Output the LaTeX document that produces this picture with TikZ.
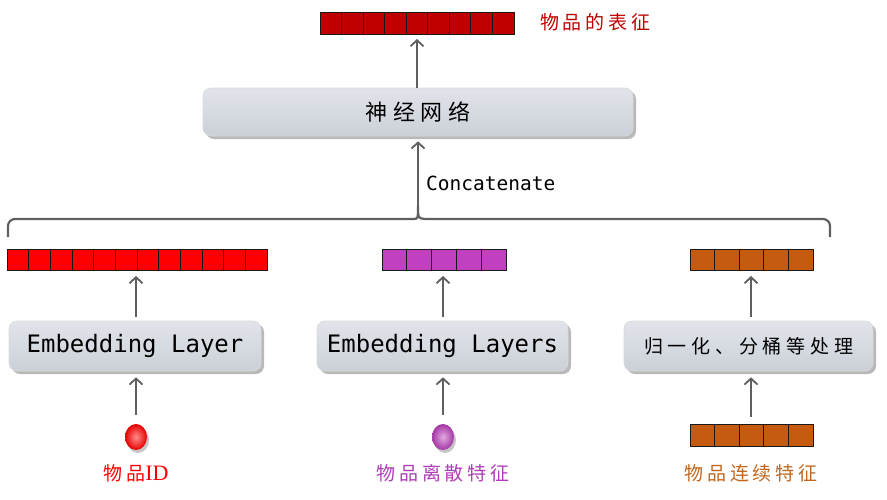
\documentclass[tikz,border=0pt]{standalone}
\usepackage{fontspec}
\newfontfamily\cjk{Noto Sans CJK SC}
\newfontfamily\cjksp[LetterSpace=20]{Noto Sans CJK SC}
\newfontfamily\cjkwide[LetterSpace=25]{Noto Sans CJK SC}
\newfontfamily\monof{DejaVu Sans Mono}
\newfontfamily\serifid{Liberation Serif}
\usetikzlibrary{arrows.meta,shadows,shapes.geometric}
\definecolor{cTop}{HTML}{C00000}
\definecolor{cRed}{HTML}{FF0000}
\definecolor{cPurple}{HTML}{C040C0}
\definecolor{cOrange}{HTML}{C55A11}
\definecolor{cOrangeTxt}{HTML}{C0661E}
\definecolor{cPurpleTxt}{HTML}{B03CB8}
\definecolor{cArrow}{HTML}{5F5F5F}
\definecolor{cBoxTop}{HTML}{E1E4EA}
\definecolor{cBoxBot}{HTML}{CBD0D8}
\begin{document}
\begin{tikzpicture}[x=1pt,y=-1pt,
  procbox/.style={rounded corners=8pt, draw=white!85!black, line width=0.6pt,
    top color=cBoxTop, bottom color=cBoxBot, inner sep=0pt,
    drop shadow={shadow xshift=3pt, shadow yshift=-3pt, fill=black!50, opacity=0.55}},
  vecbar/.style={draw=black!90, line width=1pt, inner sep=0pt, outer sep=0pt, minimum height=22pt},
  cellline/.style={draw=black!90, line width=0.9pt},
  uparrow/.style={draw=cArrow, line width=2.3pt, -{Straight Barb[length=6pt,width=13pt,line width=1.8pt]}},
  ball/.style={ellipse, minimum width=22pt, minimum height=26pt, inner sep=0pt,
    drop shadow={shadow xshift=2pt, shadow yshift=-3pt, fill=black!50, opacity=0.45}},
  bracestyle/.style={draw=cArrow, line width=2.2pt},
  monotxt/.style={font=\monof\fontsize{24}{28}\selectfont},
  cjklabel/.style={font=\cjksp\fontsize{19}{22}\selectfont, inner sep=0pt}
]
\useasboundingbox (0,0) rectangle (887,499);

% top representation
\node[vecbar, fill=cTop, minimum width=194pt] (topvec) at (417,23) {};
\foreach \i in {1,...,8} \draw[cellline] ([xshift=\i*21.556pt]topvec.south west) -- ([xshift=\i*21.556pt]topvec.north west);
\node[cjklabel, text=cTop, anchor=west] (toplab) at (540,22) {物品的表征};

% neural network
\node[procbox, minimum width=430pt, minimum height=48pt, font=\cjkwide\fontsize{22}{26}\selectfont] (nn) at (418,112) {\raisebox{-2pt}{神经网络}};
\draw[uparrow, shorten >=5pt] (nn.north -| topvec.south) -- (topvec.south);

% brace
\coordinate (tip) at (418,206);
\draw[bracestyle] (8,237) [rounded corners=7pt] |- (406,219) [sharp corners] .. controls (418,219) .. (tip) .. controls (418,219) .. (430,219) [rounded corners=7pt] -| (830,237);
\draw[uparrow, shorten >=5pt] (tip) -- (tip |- nn.south);
\node[font=\monof\fontsize{19.5}{22}\selectfont, anchor=west, inner sep=0pt] (concat) at (426,183) {Concatenate};

% vectors row
\node[vecbar, fill=cRed, minimum width=260pt, minimum height=21pt] (v1) at (137,259.5) {};
\foreach \i in {1,...,11} \draw[cellline] ([xshift=\i*21.667pt]v1.south west) -- ([xshift=\i*21.667pt]v1.north west);
\node[vecbar, fill=cPurple, minimum width=124pt, minimum height=21pt] (v2) at (444,259.5) {};
\foreach \i in {1,...,4} \draw[cellline] ([xshift=\i*24.8pt]v2.south west) -- ([xshift=\i*24.8pt]v2.north west);
\node[vecbar, fill=cOrange, minimum width=123pt, minimum height=21pt] (v3) at (751.5,259.5) {};
\foreach \i in {1,...,4} \draw[cellline] ([xshift=\i*24.6pt]v3.south west) -- ([xshift=\i*24.6pt]v3.north west);

% processing boxes
\node[procbox, minimum width=252pt, minimum height=50pt, monotxt] (b1) at (135,346) {\raisebox{-3pt}{Embedding Layer}};
\node[procbox, minimum width=251pt, minimum height=50pt, monotxt] (b2) at (442.5,346) {\raisebox{-3pt}{Embedding Layers}};
\node[procbox, minimum width=249pt, minimum height=50pt, font=\cjkwide\fontsize{19}{22}\selectfont] (b3) at (748.5,346) {\raisebox{-1pt}{归一化、分桶等处理}};

\draw[uparrow, shorten <=4pt, shorten >=6pt] (b1.north -| 136,0) -- (v1.south -| 136,0);
\draw[uparrow, shorten <=4pt, shorten >=6pt] (b2.north -| 443,0) -- (v2.south -| 443,0);
\draw[uparrow, shorten <=4pt, shorten >=6pt] (b3.north -| 751,0) -- (v3.south -| 751,0);

% inputs
\node[ball, inner color=cRed!45!white, outer color=cRed!90!black] (in1) at (136,437) {};
\node[ball, inner color=cPurple!45!white, outer color=cPurple!85!black] (in2) at (443,437) {};
\node[vecbar, fill=cOrange, minimum width=123pt] (in3) at (751.5,435) {};
\foreach \i in {1,...,4} \draw[cellline] ([xshift=\i*24.6pt]in3.south west) -- ([xshift=\i*24.6pt]in3.north west);

\draw[uparrow, shorten <=9pt, shorten >=6pt] (in1.north) -- (in1.north |- b1.south);
\draw[uparrow, shorten <=9pt, shorten >=6pt] (in2.north) -- (in2.north |- b2.south);
\draw[uparrow, shorten <=7pt, shorten >=6pt] (in3.north -| 751,0) -- (b3.south -| 751,0);

% labels
\node[cjklabel, text=cRed] (l1) at (136,473) {物品{\serifid\fontsize{22}{24}\selectfont ID}};
\node[cjklabel, text=cPurpleTxt] (l2) at (443,473) {物品离散特征};
\node[cjklabel, text=cOrangeTxt] (l3) at (751,473) {物品连续特征};
\end{tikzpicture}
\end{document}
